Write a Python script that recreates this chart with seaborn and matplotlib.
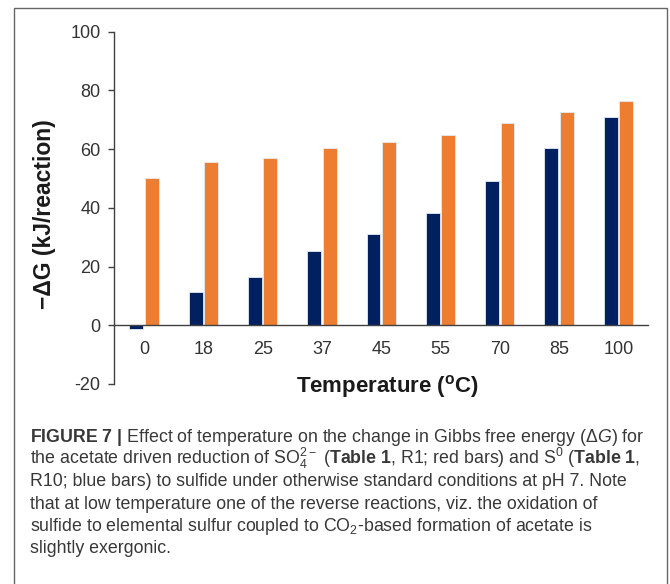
import matplotlib
matplotlib.use("Agg")
import matplotlib.pyplot as plt
from matplotlib.patches import Rectangle
import seaborn as sns
import pandas as pd

# -dG (kJ/reaction) per temperature for the two acetate-driven reductions
temperatures = ["0", "18", "25", "37", "45", "55", "70", "85", "100"]
s0_values = [-1.3, 11.4, 16.6, 25.3, 31.0, 38.3, 49.3, 60.3, 70.9]    # S0 -> sulfide (R10)
so4_values = [50.2, 55.5, 57.0, 60.3, 62.3, 64.8, 68.8, 72.6, 76.5]   # SO4 -> sulfide (R1)
series_names = ["S0 (R10)", "SO4 (R1)"]
series_colors = ["#002060", "#ED7D31"]
y_ticks = [-20, 0, 20, 40, 60, 80, 100]

caption_lines = [
    r"$\mathbf{FIGURE\ 7\ |}$ Effect of temperature on the change in Gibbs free energy ($\Delta G$) for",
    r"the acetate driven reduction of SO$_4^{2-}$ ($\mathbf{Table\ 1}$, R1; red bars) and S$^0$ ($\mathbf{Table\ 1}$,",
    "R10; blue bars) to sulfide under otherwise standard conditions at pH 7. Note",
    "that at low temperature one of the reverse reactions, viz. the oxidation of",
    r"sulfide to elemental sulfur coupled to CO$_2$-based formation of acetate is",
    "slightly exergonic.",
]

df = pd.DataFrame({
    "Temperature": temperatures * 2,
    "dG": s0_values + so4_values,
    "series": [series_names[0]] * len(temperatures) + [series_names[1]] * len(temperatures),
})

sns.set_theme(style="white")
plt.rcParams["font.family"] = ["Liberation Sans", "DejaVu Sans"]
plt.rcParams["mathtext.fontset"] = "custom"
plt.rcParams["mathtext.rm"] = "Liberation Sans"
plt.rcParams["mathtext.it"] = "Liberation Sans:italic"
plt.rcParams["mathtext.bf"] = "Liberation Sans:bold"

W, H = 670, 584
fig = plt.figure(figsize=(W / 100, H / 100), dpi=100)
fig.patch.set_facecolor("white")

ax_l, ax_r, ax_t, ax_b = 114.5, 648.0, 31.7, 384.0
ax = fig.add_axes([ax_l / W, 1 - ax_b / H, (ax_r - ax_l) / W, (ax_b - ax_t) / H])

sns.barplot(
    data=df, x="Temperature", y="dG", hue="series",
    order=temperatures, hue_order=series_names, palette=series_colors,
    saturation=1, width=0.52, gap=0.1, edgecolor="#e4ebf2", linewidth=0.6,
    errorbar=None, legend=False, ax=ax,
)

ax.set_xlim(-0.5, len(temperatures) - 0.5)
ax.set_ylim(-20, 100)
ax.set_yticks(y_ticks)
ax.set_yticklabels([str(t) for t in y_ticks])

for side in ["top", "right"]:
    ax.spines[side].set_visible(False)
ax.spines["bottom"].set_position(("data", 0))
for side in ["left", "bottom"]:
    ax.spines[side].set_color("#404040")
    ax.spines[side].set_linewidth(1.0)
ax.set_facecolor("none")

ax.tick_params(axis="y", direction="out", length=4.5, width=1.0, color="#404040",
               pad=5.5, labelsize=13, labelcolor="#333333", left=True)
ax.tick_params(axis="x", length=0, pad=11, labelsize=13, labelcolor="#333333")

ax.set_ylabel("\u2212\u0394G (kJ/reaction)", fontsize=16.5, fontweight="bold",
              color="#1a1a1a", va="center")
ax.yaxis.set_label_coords((45 - ax_l) / (ax_r - ax_l), (ax_b - 214) / (ax_b - ax_t))

ax.set_xlabel(r"Temperature ($^{\mathbf{o}}$C)", fontsize=16, fontweight="bold",
              color="#1a1a1a", va="center")
ax.xaxis.set_label_coords((388 - ax_l) / (ax_r - ax_l), (ax_b - 387) / (ax_b - ax_t))

# frame around chart and caption
fig.patches.append(Rectangle((14 / W, -0.02), (667 - 14) / W, 1.02 - 8 / H,
                             transform=fig.transFigure, fill=False,
                             edgecolor="#666666", linewidth=1.0))

base0, step = 442, 22.2
for i, line in enumerate(caption_lines):
    fig.text(30 / W, 1 - (base0 + i * step) / H, line, fontsize=12.8,
             color="#383838", ha="left", va="baseline")

fig.savefig("out.png", dpi=100)
